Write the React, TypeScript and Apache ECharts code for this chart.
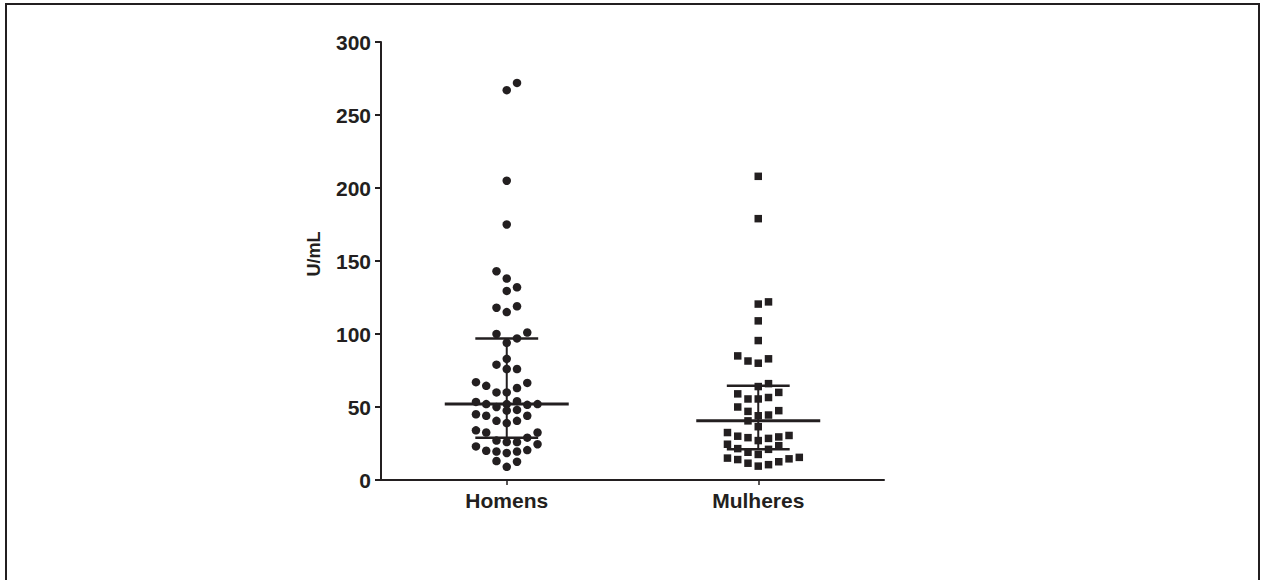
import React, { useEffect, useRef } from 'react';
import * as echarts from 'echarts';

const categories = ['Homens', 'Mulheres'];
const yMin = 0;
const yMax = 300;
const yInterval = 50;

// beeswarm column index (horizontal slot) and value for each point
const homensCols = [1, 0, 0, 0, -1, 0, 1, 0, -1, 1, 0, -1, 2, 1, 0, 0, -1, 0, 1, -3, -2, 2, 1, -1, 0, -3, -2, -1, 0, 1, 2, 3, 0, 1, -3, -2, 2, -1, 0, 1, -3, -2, 3, 2, -1, 0, 1, 3, -3, -2, -1, 0, 1, 2, -1, 1, 0];
const homensValues = [272, 267, 205, 175, 143, 138, 132, 129.5, 118, 119, 115, 100, 101, 97, 94, 83, 79, 76, 76, 67, 64.5, 66.5, 63, 60, 60, 53.5, 52, 50, 52, 54, 51.5, 52, 47.5, 48, 45, 44, 44, 40.5, 39, 40.5, 34, 32.5, 32.5, 29, 27, 26, 26, 24.5, 23, 20, 19.5, 18.5, 19.5, 20.5, 13, 12.5, 9];

const mulheresCols = [0, 0, 0, 1, 0, 0, -2, -1, 0, 1, 0, 1, -2, -1, 0, 1, 2, -2, -1, 0, 1, 2, -1, 0, -3, -2, -1, 0, 1, 2, 3, -3, -2, -1, 0, 1, 2, -3, -2, -1, 0, 1, 2, 3, 4];
const mulheresValues = [208, 179, 120.5, 122, 109, 95.5, 85, 81.5, 80, 83, 64, 66, 59, 55.5, 55.5, 56.5, 60, 50, 47, 44, 44.5, 47.5, 40.5, 36.5, 32.5, 30, 29, 27, 28.5, 29.5, 30.5, 24.5, 21.5, 19, 17.5, 21, 23.5, 15, 14, 11.5, 9.5, 10.5, 12.5, 14.5, 15.5];

const medians = [52, 40.5];
const lowerQuartiles = [29, 21];
const upperQuartiles = [97, 64.5];

const INK = '#231F20';
const FONT = 'Liberation Sans, Arial, sans-serif';
const COL_STEP = 0.0408;
const MED_HALF = 0.2465;
const CAP_HALF = 0.125;

function toPoints(catIdx: number, cols: number[], vals: number[]) {
  return vals.map((v, i) => [catIdx + 0.5 + cols[i] * COL_STEP, v]);
}

export default function App() {
  const ref = useRef<HTMLDivElement>(null);
  useEffect(() => {
    const chart = echarts.init(ref.current!, null, { renderer: 'svg' });
    const option: any = {
      animation: false,
      backgroundColor: '#ffffff',
      graphic: [
        {
          type: 'rect',
          silent: true,
          shape: { x: 6, y: 4, width: 1253, height: 640 },
          style: { fill: 'none', stroke: INK, lineWidth: 2 },
        },
      ],
      grid: { left: 381, right: 382, top: 42, bottom: 100, containLabel: false },
      xAxis: [
        {
          type: 'category',
          data: categories,
          boundaryGap: true,
          axisLine: { show: true, lineStyle: { color: INK, width: 2 } },
          axisTick: { show: true, alignWithLabel: true, length: 5, lineStyle: { color: INK, width: 1.5 } },
          axisLabel: { color: INK, fontFamily: FONT, fontWeight: 'bold', fontSize: 21, margin: 10 },
          splitLine: { show: false },
        },
        {
          type: 'value',
          min: 0,
          max: categories.length,
          show: false,
        },
      ],
      yAxis: {
        type: 'value',
        min: yMin,
        max: yMax,
        interval: yInterval,
        name: 'U/mL',
        nameLocation: 'middle',
        nameGap: 58,
        nameTextStyle: { color: INK, fontFamily: FONT, fontWeight: 'bold', fontSize: 18, padding: [0, 0, 0, 14] },
        axisLine: { show: true, lineStyle: { color: INK, width: 2 } },
        axisTick: { show: true, length: 6, lineStyle: { color: INK, width: 2 } },
        axisLabel: { color: INK, fontFamily: FONT, fontWeight: 'bold', fontSize: 21, margin: 10 },
        splitLine: { show: false },
      },
      series: [
        {
          type: 'custom',
          xAxisIndex: 1,
          data: categories.map((_, i) => [i, medians[i], lowerQuartiles[i], upperQuartiles[i]]),
          encode: { x: 0, y: 1 },
          z: 3,
          renderItem: (params: any, api: any) => {
            const i = api.value(0);
            const med = api.value(1);
            const lo = api.value(2);
            const hi = api.value(3);
            const c = i + 0.5;
            const a = api.coord([c - MED_HALF, med]);
            const b = api.coord([c + MED_HALF, med]);
            const l1 = api.coord([c - CAP_HALF, lo]);
            const l2 = api.coord([c + CAP_HALF, lo]);
            const h1 = api.coord([c - CAP_HALF, hi]);
            const h2 = api.coord([c + CAP_HALF, hi]);
            const v1 = api.coord([c, lo]);
            const v2 = api.coord([c, hi]);
            const st = (w: number) => ({ stroke: INK, lineWidth: w, fill: 'none' });
            return {
              type: 'group',
              children: [
                { type: 'line', shape: { x1: a[0], y1: a[1], x2: b[0], y2: b[1] }, style: st(3) },
                { type: 'line', shape: { x1: l1[0], y1: l1[1], x2: l2[0], y2: l2[1] }, style: st(2.5) },
                { type: 'line', shape: { x1: h1[0], y1: h1[1], x2: h2[0], y2: h2[1] }, style: st(2.5) },
                { type: 'line', shape: { x1: v1[0], y1: v1[1], x2: v2[0], y2: v2[1] }, style: st(2) },
              ],
            };
          },
        },
        {
          type: 'scatter',
          name: 'Homens',
          xAxisIndex: 1,
          symbol: 'circle',
          symbolSize: 8.5,
          itemStyle: { color: INK, opacity: 1 },
          data: toPoints(0, homensCols, homensValues),
          z: 4,
        },
        {
          type: 'scatter',
          name: 'Mulheres',
          xAxisIndex: 1,
          symbol: 'rect',
          symbolSize: 7.5,
          itemStyle: { color: INK, opacity: 1 },
          data: toPoints(1, mulheresCols, mulheresValues),
          z: 4,
        },
      ],
    };
    chart.setOption(option);
    return () => chart.dispose();
  }, []);
  return (
    <div
      ref={ref}
      style={{ position: 'absolute', left: 0, top: 0, width: 1266, height: 580 }}
    />
  );
}
